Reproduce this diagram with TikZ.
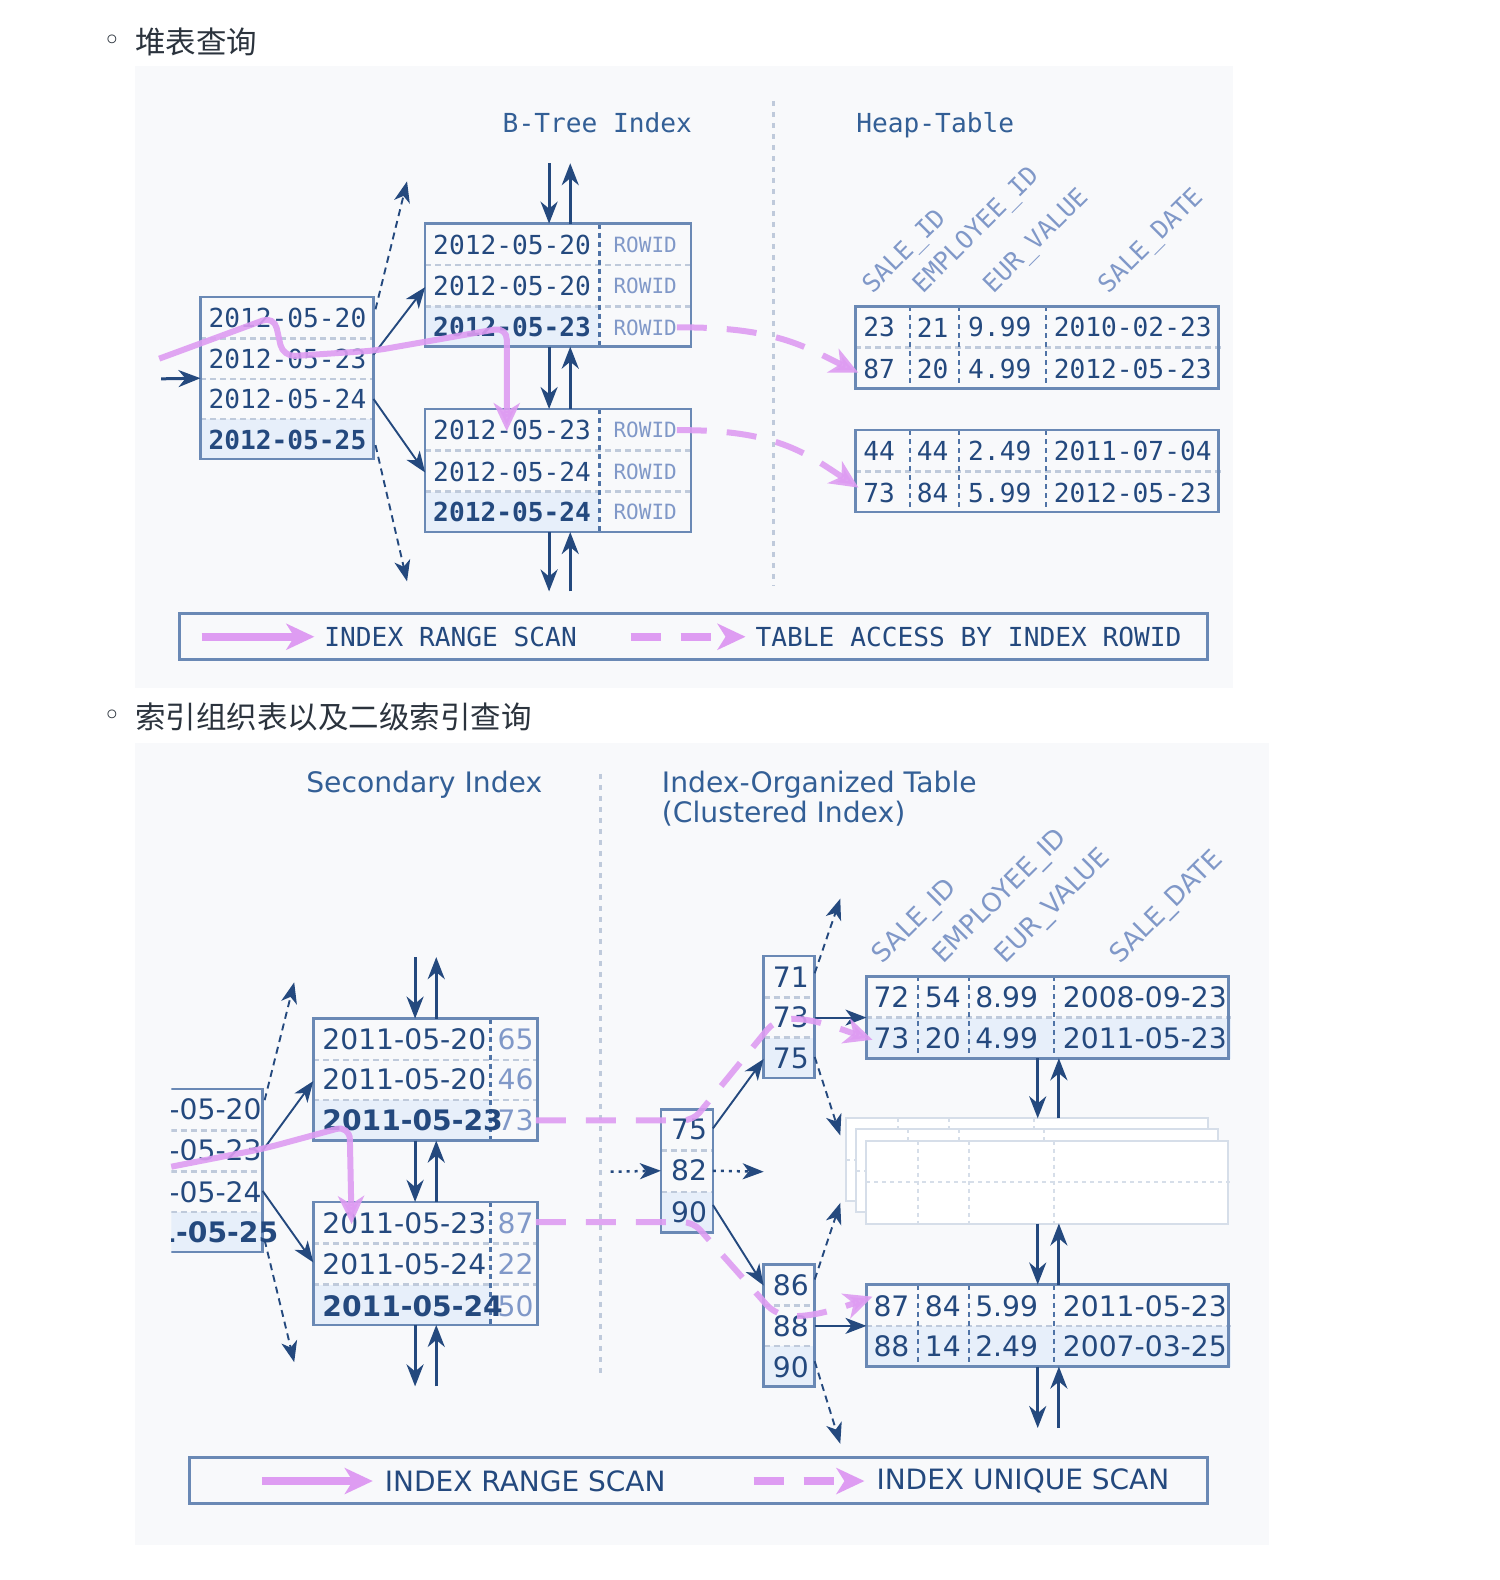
\documentclass[tikz,border=0pt]{standalone}
\usepackage{fontspec}
\setmainfont{DejaVu Sans}
\newfontfamily\monof{DejaVu Sans Mono}
\newfontfamily\cjkf{Noto Sans CJK SC}
\usetikzlibrary{arrows.meta,calc}
\definecolor{navy}{HTML}{24497E}
\definecolor{navy2}{HTML}{335F96}
\definecolor{boxc}{HTML}{6A89B5}
\definecolor{colc}{HTML}{4F73A6}
\definecolor{sepc}{HTML}{BFCADB}
\definecolor{fillc}{HTML}{E7EFFA}
\definecolor{lightt}{HTML}{8098C8}
\definecolor{pinkc}{HTML}{DE9CF2}
\definecolor{panel}{HTML}{F8F9FB}
\definecolor{cjkc}{HTML}{2B333D}
\definecolor{ghost}{HTML}{D6DEE9}
\begin{document}
\begin{tikzpicture}[x=1.0075pt,y=-1.0075pt,
  every node/.style={inner sep=0pt,outer sep=0pt},
  boxn/.style={draw=boxc,line width=2.5pt,anchor=north west},
  rowsep/.style={draw=sepc,line width=2.5pt,dash pattern=on 6pt off 4pt},
  colsep/.style={draw=colc,line width=2.5pt,dash pattern=on 5pt off 4pt},
  mtxt/.style={font=\monof\fontsize{26.2}{30}\selectfont,text=navy,anchor=west},
  mtxtb/.style={font=\monof\bfseries\fontsize{26.2}{30}\selectfont,text=navy,anchor=west},
  rowidt/.style={font=\monof\fontsize{21}{24}\selectfont,text=lightt,anchor=west},
  hdrm/.style={font=\monof\fontsize{25}{28}\selectfont,text=lightt,rotate=45,anchor=base west},
  stxt/.style={font=\fontsize{28.2}{32}\selectfont,text=navy,anchor=west},
  stxtb/.style={font=\bfseries\fontsize{28.2}{32}\selectfont,text=navy,anchor=west},
  stxtl/.style={font=\fontsize{28.2}{32}\selectfont,text=lightt,anchor=west},
  hdrs/.style={font=\fontsize{26}{30}\selectfont,text=lightt,rotate=45,anchor=base west},
  cjkt/.style={font=\cjkf\fontsize{30.5}{34}\selectfont,text=cjkc,anchor=west},
  bult/.style={font=\fontsize{30}{34}\selectfont,text=cjkc},
  navar/.style={draw=navy,line width=3pt,-{Stealth[length=22pt,width=17pt,inset=7pt]}},
  thinar/.style={draw=navy,line width=1.9pt,-{Stealth[length=21pt,width=16pt,inset=6pt]}},
  dasharr/.style={thinar,dash pattern=on 7pt off 5pt},
  dotarr/.style={draw=navy,line width=2.5pt,dash pattern=on 3pt off 5pt,-{Stealth[length=21pt,width=16pt,inset=6pt]}},
  pinkline/.style={draw=pinkc,line width=6pt,opacity=0.9,-{Stealth[length=28pt,width=26pt,inset=8pt]}},
  pinkdash/.style={pinkline,dash pattern=on 30pt off 20pt},
  vdots/.style={draw=sepc,line width=3pt,dash pattern=on 5pt off 6pt},
  legbox/.style={draw=boxc,line width=3pt,anchor=north west,minimum height=46pt},
  ghostb/.style={draw=ghost,line width=2pt,fill=white,anchor=north west,minimum width=362pt,minimum height=83pt},
  ghostsep/.style={draw=ghost,line width=2pt,dash pattern=on 4pt off 4pt}
]
\useasboundingbox (0,0) rectangle (1488.83,1568.24);
\fill[white] (0,0) rectangle (1488.83,1568.24);

% ================= TOP =================
\node[bult] (b1) at (112,42) {◦};
\node[cjkt] (h1) at (134,42) {堆表查询};
\fill[panel] (134,66) rectangle (1224,683);

\node[mtxt,text=navy2,anchor=base west] (tb) at (499,132) {B-Tree Index};
\node[mtxt,text=navy2,anchor=base west] (th) at (850,132) {Heap-Table};
\draw[vdots] (768,100) -- (768,582);

% root box
\fill[fillc] (199,416) rectangle (372,457);
\foreach \yy in {336,376,416} \draw[rowsep] (199,\yy) -- (372,\yy);
\node[boxn,minimum width=173pt,minimum height=162pt] (R) at (199,295) {};
\node[mtxt] (r1) at (207,316) {2012-05-20};
\node[mtxt] (r2) at (207,356) {2012-05-23};
\node[mtxt] (r3) at (207,396) {2012-05-24};
\node[mtxtb] (r4) at (207,437) {2012-05-25};

% leaf 1
\fill[fillc] (422,304) rectangle (595,345);
\foreach \yy in {263,304} \draw[rowsep] (422,\yy) -- (688,\yy);
\draw[colsep] (595,222) -- (595,345);
\node[boxn,minimum width=266pt,minimum height=123pt] (L1) at (422,222) {};
\node[mtxt] (l11) at (430,243) {2012-05-20};
\node[mtxt] (l12) at (430,284) {2012-05-20};
\node[mtxtb] (l13) at (430,325) {2012-05-23};
\node[rowidt] (l11r) at (609,243) {ROWID};
\node[rowidt] (l12r) at (609,284) {ROWID};
\node[rowidt] (l13r) at (609,325) {ROWID};

% leaf 2
\fill[fillc] (422,488) rectangle (595,529);
\foreach \yy in {447,488} \draw[rowsep] (422,\yy) -- (688,\yy);
\draw[colsep] (595,406) -- (595,529);
\node[boxn,minimum width=266pt,minimum height=123pt] (L2) at (422,406) {};
\node[mtxt] (l21) at (430,427) {2012-05-23};
\node[mtxt] (l22) at (430,468) {2012-05-24};
\node[mtxtb] (l23) at (430,508) {2012-05-24};
\node[rowidt] (l21r) at (609,427) {ROWID};
\node[rowidt] (l22r) at (609,468) {ROWID};
\node[rowidt] (l23r) at (609,508) {ROWID};

% heap tables
\draw[rowsep] (849,345) -- (1212,345);
\foreach \xx in {903,952,1038} \draw[colsep] (\xx,304) -- (\xx,386);
\node[boxn,minimum width=363pt,minimum height=82pt] (H1) at (849,304) {};
\node[mtxt] (h11a) at (857,325) {23};
\node[mtxt] (h11b) at (910,325) {21};
\node[mtxt] (h11c) at (961,325) {9.99};
\node[mtxt] (h11d) at (1046,325) {2010-02-23};
\node[mtxt] (h12a) at (857,366) {87};
\node[mtxt] (h12b) at (910,366) {20};
\node[mtxt] (h12c) at (961,366) {4.99};
\node[mtxt] (h12d) at (1046,366) {2012-05-23};

\draw[rowsep] (849,468) -- (1212,468);
\foreach \xx in {903,952,1038} \draw[colsep] (\xx,427) -- (\xx,509);
\node[boxn,minimum width=363pt,minimum height=82pt] (H2) at (849,427) {};
\node[mtxt] (h21a) at (857,448) {44};
\node[mtxt] (h21b) at (910,448) {44};
\node[mtxt] (h21c) at (961,448) {2.49};
\node[mtxt] (h21d) at (1046,448) {2011-07-04};
\node[mtxt] (h22a) at (857,489) {73};
\node[mtxt] (h22b) at (910,489) {84};
\node[mtxt] (h22c) at (961,489) {5.99};
\node[mtxt] (h22d) at (1046,489) {2012-05-23};

\node[hdrm] (hc1) at (866,292) {SALE\_ID};
\node[hdrm] (hc2) at (916,292) {EMPLOYEE\_ID};
\node[hdrm] (hc3) at (986,292) {EUR\_VALUE};
\node[hdrm] (hc4) at (1100,292) {SALE\_DATE};

% vertical navigation arrows
\draw[navar] ($(L1.north west)+(123,-60)$) -- ($(L1.north west)+(123,0)$);
\draw[navar] ($(L1.north west)+(144,0)$) -- ($(L1.north west)+(144,-60)$);
\draw[navar] ($(L1.south west)+(123,0)$) -- ($(L2.north west)+(123,0)$);
\draw[navar] ($(L2.north west)+(144,0)$) -- ($(L1.south west)+(144,0)$);
\draw[navar] ($(L2.south west)+(123,0)$) -- ($(L2.south west)+(123,59)$);
\draw[navar] ($(L2.south west)+(144,59)$) -- ($(L2.south west)+(144,0)$);

% root connectors
\coordinate (rup) at (404,180);
\coordinate (rdn) at (404,577);
\coordinate (rin) at (160,376);
\draw[dasharr] ($(R.north east)+(2,12)$) -- (rup);
\draw[thinar] ($(R.north east)+(0,57)$) -- ($(L1.north west)+(0,63)$);
\draw[thinar] ($(R.north east)+(0,101)$) -- ($(L2.north west)+(0,63)$);
\draw[dasharr] ($(R.south east)+(2,-14)$) -- (rdn);
\draw[navar] (rin) -- (R.west);

% pink paths
\draw[pinkline,rounded corners=12pt] (158,356) -- (272,314) -- (281,354) -- (372,348) -- (503,325) -- (503,428);
\draw[pinkdash] (l13r.east) .. controls (770,324) and (800,345) .. (852,370);
\draw[pinkdash] (l21r.east) .. controls (770,426) and (800,450) .. (852,484);

% legend top
\node[legbox,minimum width=1028pt] (LG1) at (178,609) {};
\coordinate (lg1s) at (200,632);
\coordinate (lg1d) at (626,632);
\node[mtxt] (lg1a) at (322,632) {INDEX RANGE SCAN};
\node[mtxt] (lg1b) at (750,632) {TABLE ACCESS BY INDEX ROWID};
\draw[pinkline,line width=8pt,opacity=1] (lg1s) -- ($(lg1a.west)+(-10,0)$);
\draw[pinkdash,line width=8pt,opacity=1] (lg1d) -- ($(lg1b.west)+(-10,0)$);

% ================= BOTTOM =================
\node[bult] (b2) at (112,712) {◦};
\node[cjkt] (h2) at (134,712) {索引组织表以及二级索引查询};
\fill[panel] (134,737) rectangle (1260,1533);

\node[stxt,text=navy2,anchor=base west] (ts) at (304,787) {Secondary Index};
\node[stxt,text=navy2,anchor=base west] (ti1) at (657,787) {Index-Organized Table};
\node[stxt,text=navy2,anchor=base west] (ti2) at (657,816) {(Clustered Index)};
\draw[vdots] (596,768) -- (596,1368);

% secondary root (clipped)
\begin{scope}
\clip (170,1060) rectangle (330,1262);
\fill[fillc] (80,1203) rectangle (262,1244);
\foreach \yy in {1122,1163,1203} \draw[rowsep] (80,\yy) -- (262,\yy);
\node[boxn,minimum width=182pt,minimum height=163pt] (SR) at (80,1081) {};
\node[stxt] (sr1) at (97,1101) {2011-05-20};
\node[stxt] (sr2) at (97,1142) {2011-05-23};
\node[stxt] (sr3) at (97,1183) {2011-05-24};
\node[stxtb] (sr4) at (97,1223) {2011-05-25};
\end{scope}

% secondary leaf 1
\fill[fillc] (311,1092) rectangle (487,1133);
\foreach \yy in {1052,1092} \draw[rowsep] (311,\yy) -- (535,\yy);
\draw[colsep] (487,1011) -- (487,1133);
\node[boxn,minimum width=224pt,minimum height=122pt] (S1) at (311,1011) {};
\node[stxtl] (s11n) at (494,1031) {65};
\node[stxtl] (s12n) at (494,1071) {46};
\node[stxtl] (s13n) at (494,1112) {73};
\node[stxt] (s11) at (320,1031) {2011-05-20};
\node[stxt] (s12) at (320,1071) {2011-05-20};
\node[stxtb] (s13) at (320,1112) {2011-05-23};

% secondary leaf 2
\fill[fillc] (311,1275) rectangle (487,1316);
\foreach \yy in {1234,1275} \draw[rowsep] (311,\yy) -- (535,\yy);
\draw[colsep] (487,1193) -- (487,1316);
\node[boxn,minimum width=224pt,minimum height=123pt] (S2) at (311,1193) {};
\node[stxtl] (s21n) at (494,1214) {87};
\node[stxtl] (s22n) at (494,1255) {22};
\node[stxtl] (s23n) at (494,1296) {50};
\node[stxt] (s21) at (320,1214) {2011-05-23};
\node[stxt] (s22) at (320,1255) {2011-05-24};
\node[stxtb] (s23) at (320,1296) {2011-05-24};

% secondary vertical arrows
\draw[navar] ($(S1.north west)+(101,-61)$) -- ($(S1.north west)+(101,0)$);
\draw[navar] ($(S1.north west)+(122,0)$) -- ($(S1.north west)+(122,-61)$);
\draw[navar] ($(S1.south west)+(101,0)$) -- ($(S2.north west)+(101,0)$);
\draw[navar] ($(S2.north west)+(122,0)$) -- ($(S1.south west)+(122,0)$);
\draw[navar] ($(S2.south west)+(101,0)$) -- ($(S2.south west)+(101,61)$);
\draw[navar] ($(S2.south west)+(122,61)$) -- ($(S2.south west)+(122,0)$);

% secondary root connectors
\coordinate (sup) at (292,975);
\coordinate (sdn) at (292,1352);
\draw[dasharr] ($(SR.north east)+(2,11)$) -- (sup);
\draw[thinar] ($(SR.north east)+(0,61)$) -- ($(S1.north west)+(0,62)$);
\draw[thinar] ($(SR.north east)+(0,101)$) -- ($(S2.north west)+(0,60)$);
\draw[dasharr] ($(SR.south east)+(2,-12)$) -- (sdn);

% IOT root
\fill[fillc] (656,1183) rectangle (708,1224);
\foreach \yy in {1142,1183} \draw[rowsep] (656,\yy) -- (708,\yy);
\node[boxn,minimum width=52pt,minimum height=123pt] (IR) at (656,1101) {};
\node[stxt,anchor=center] (ir1) at (684,1121) {75};
\node[stxt,anchor=center] (ir2) at (684,1162) {82};
\node[stxt,anchor=center] (ir3) at (684,1203) {90};
\coordinate (irin) at (606,1163);
\coordinate (irout) at (758,1163);
\draw[dotarr] (irin) -- (IR.west);
\draw[dotarr] (IR.east) -- (irout);

% IOT branch 1
\fill[fillc] (758,1030) rectangle (809,1071);
\foreach \yy in {990,1030} \draw[rowsep] (758,\yy) -- (809,\yy);
\node[boxn,minimum width=51pt,minimum height=122pt] (B1) at (758,949) {};
\node[stxt,anchor=center] (b11) at (785,970) {71};
\node[stxt,anchor=center] (b12) at (785,1010) {73};
\node[stxt,anchor=center] (b13) at (785,1051) {75};

% IOT branch 2
\fill[fillc] (758,1336) rectangle (809,1377);
\foreach \yy in {1296,1336} \draw[rowsep] (758,\yy) -- (809,\yy);
\node[boxn,minimum width=51pt,minimum height=122pt] (B2) at (758,1255) {};
\node[stxt,anchor=center] (b21) at (785,1276) {86};
\node[stxt,anchor=center] (b22) at (785,1316) {88};
\node[stxt,anchor=center] (b23) at (785,1357) {90};

% table 1
\fill[fillc] (860,1010) rectangle (1222,1051);
\draw[rowsep] (860,1010) -- (1222,1010);
\foreach \xx in {911,962,1046} \draw[colsep] (\xx,969) -- (\xx,1051);
\node[boxn,minimum width=362pt,minimum height=82pt] (T1) at (860,969) {};
\node[stxt] (t11a) at (867,990) {72};
\node[stxt] (t11b) at (918,990) {54};
\node[stxt] (t11c) at (968,990) {8.99};
\node[stxt] (t11d) at (1055,990) {2008-09-23};
\node[stxt] (t12a) at (867,1030) {73};
\node[stxt] (t12b) at (918,1030) {20};
\node[stxt] (t12c) at (968,1030) {4.99};
\node[stxt] (t12d) at (1055,1030) {2011-05-23};

% ghost tables
\node[ghostb] (G3) at (840,1110) {};
\foreach \xx in {891,942,1026} \draw[ghostsep] (\xx,1110) -- (\xx,1193);
\draw[ghostsep] (840,1151) -- (1202,1151);
\node[ghostb] (G2) at (850,1121) {};
\foreach \xx in {901,952,1036} \draw[ghostsep] (\xx,1121) -- (\xx,1204);
\draw[ghostsep] (850,1162) -- (1212,1162);
\node[ghostb] (G1) at (860,1132) {};
\foreach \xx in {911,962,1046} \draw[ghostsep] (\xx,1132) -- (\xx,1215);
\draw[ghostsep] (860,1173) -- (1222,1173);

% table 2
\fill[fillc] (860,1316) rectangle (1222,1357);
\draw[rowsep] (860,1316) -- (1222,1316);
\foreach \xx in {911,962,1046} \draw[colsep] (\xx,1275) -- (\xx,1357);
\node[boxn,minimum width=362pt,minimum height=82pt] (T2) at (860,1275) {};
\node[stxt] (t21a) at (867,1296) {87};
\node[stxt] (t21b) at (918,1296) {84};
\node[stxt] (t21c) at (968,1296) {5.99};
\node[stxt] (t21d) at (1055,1296) {2011-05-23};
\node[stxt] (t22a) at (867,1336) {88};
\node[stxt] (t22b) at (918,1336) {14};
\node[stxt] (t22c) at (968,1336) {2.49};
\node[stxt] (t22d) at (1055,1336) {2007-03-25};

\node[hdrs] (hs1) at (876,957) {SALE\_ID};
\node[hdrs] (hs2) at (936,957) {EMPLOYEE\_ID};
\node[hdrs] (hs3) at (998,957) {EUR\_VALUE};
\node[hdrs] (hs4) at (1112,957) {SALE\_DATE};

% IOT vertical arrows
\draw[navar] ($(T1.south west)+(170,0)$) -- ($(G3.north west)+(190,0)$);
\draw[navar] ($(G3.north west)+(211,0)$) -- ($(T1.south west)+(191,0)$);
\draw[navar] ($(G1.south west)+(170,0)$) -- ($(T2.north west)+(170,0)$);
\draw[navar] ($(T2.north west)+(191,0)$) -- ($(G1.south west)+(191,0)$);
\draw[navar] ($(T2.south west)+(170,0)$) -- ($(T2.south west)+(170,61)$);
\draw[navar] ($(T2.south west)+(191,61)$) -- ($(T2.south west)+(191,0)$);

% IOT connectors
\draw[thinar] ($(IR.north east)+(0,19)$) -- ($(B1.south west)+(0,-19)$);
\draw[thinar] ($(IR.north east)+(0,95)$) -- ($(B2.north west)+(0,21)$);
\coordinate (b1up) at (834,892);
\coordinate (b1dn) at (834,1127);
\coordinate (b2up) at (834,1194);
\coordinate (b2dn) at (834,1433);
\draw[dasharr] ($(B1.north east)+(0,17)$) -- (b1up);
\draw[thinar] ($(B1.north east)+(0,61)$) -- ($(T1.north west)+(0,41)$);
\draw[dasharr] ($(B1.south east)+(0,-21)$) -- (b1dn);
\draw[dasharr] ($(B2.north east)+(0,15)$) -- (b2up);
\draw[thinar] ($(B2.north east)+(0,61)$) -- ($(T2.north west)+(0,41)$);
\draw[dasharr] ($(B2.south east)+(0,-25)$) -- (b2dn);

% pink paths bottom
\draw[pinkline,rounded corners=14pt] (170,1158) -- (262,1140) -- (347,1117) -- (349,1215);
\draw[pinkdash,rounded corners=10pt] (532,1112) -- (688,1112) -- (768,1014) .. controls (800,1008) and (830,1020) .. (866,1032);
\draw[pinkdash,rounded corners=10pt] (532,1213) -- (688,1213) -- (768,1303) .. controls (800,1310) and (835,1298) .. (866,1287);

% legend bottom
\node[legbox,minimum width=1018pt] (LG2) at (188,1447) {};
\coordinate (lg2s) at (260,1470);
\coordinate (lg2d) at (748,1470);
\node[stxt,font=\fontsize{28}{30}\selectfont] (lg2a) at (382,1470) {INDEX RANGE SCAN};
\node[stxt,font=\fontsize{28}{30}\selectfont] (lg2b) at (870,1470) {INDEX UNIQUE SCAN};
\draw[pinkline,line width=8pt,opacity=1] (lg2s) -- ($(lg2a.west)+(-12,0)$);
\draw[pinkdash,line width=8pt,opacity=1] (lg2d) -- ($(lg2b.west)+(-12,0)$);
\end{tikzpicture}
\end{document}
